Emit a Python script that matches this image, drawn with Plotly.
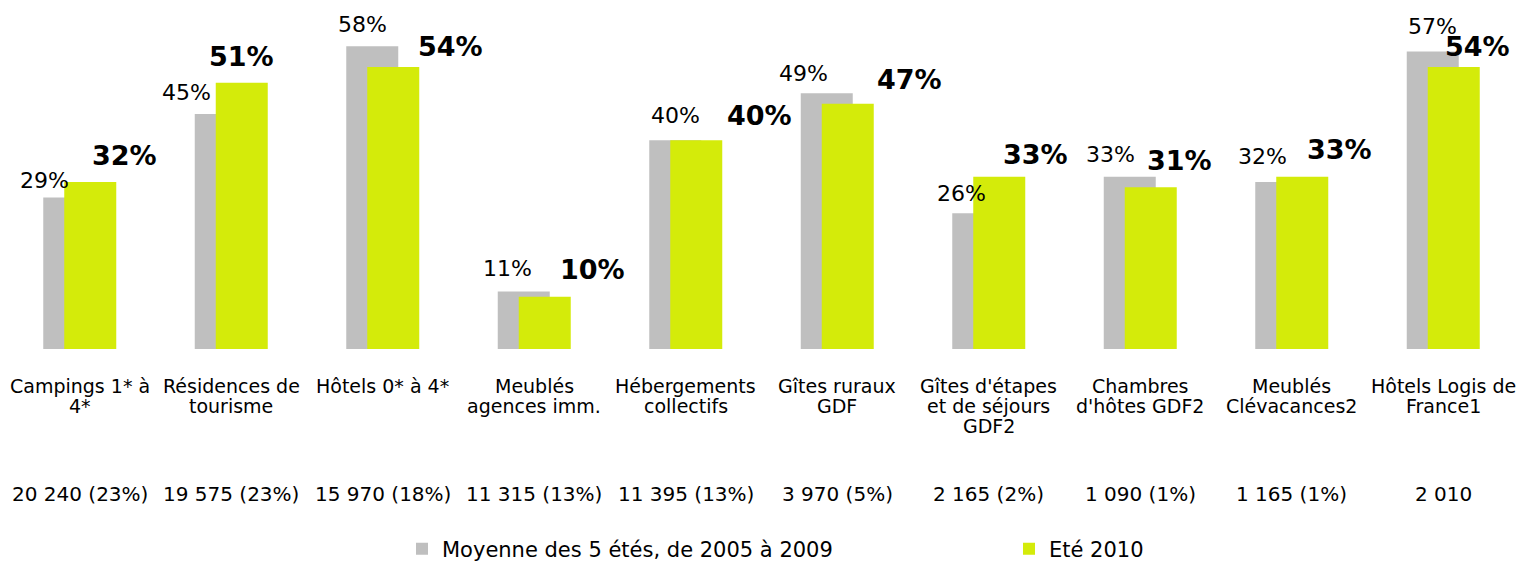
import plotly.graph_objects as go

categories = [
    "Campings 1* à\n4*",
    "Résidences de\ntourisme",
    "Hôtels 0* à 4*",
    "Meublés\nagences imm.",
    "Hébergements\ncollectifs",
    "Gîtes ruraux\nGDF",
    "Gîtes d'étapes\net de séjours\nGDF2",
    "Chambres\nd'hôtes GDF2",
    "Meublés\nClévacances2",
    "Hôtels Logis de\nFrance1",
]
counts = [
    "20 240 (23%)", "19 575 (23%)", "15 970 (18%)", "11 315 (13%)", "11 395 (13%)",
    "3 970 (5%)", "2 165 (2%)", "1 090 (1%)", "1 165 (1%)", "2 010",
]
avg_2005_2009 = [29, 45, 58, 11, 40, 49, 26, 33, 32, 57]
ete_2010 = [32, 51, 54, 10, 40, 47, 33, 31, 33, 54]

name_avg = "Moyenne des 5 étés, de 2005 à 2009"
name_2010 = "Eté 2010"

# Styling: pixel nudges of the value labels relative to the top-centre of their bar
grey_label_nudge_x = [-25, -34, -10, -16, 0, -23, -17, -19, -19, 0]
grey_label_nudge_y = [17, 22, 22, 23, 25, 20, 20, 22, 25, 25]
green_label_nudge_x = [34, 0, 57, 48, 63, 62, 36, 29, 37, 24]
green_label_nudge_y = [26, 26, 21, 27, 25, 24, 22, 27, 27, 21]

GREY = "#BFBFBF"
GREEN = "#D4EB0A"
FONT = "DejaVu Sans"

W, H = 1519, 562
ML, MR, MT, MB = 4, 0, 0, 213
plot_w = W - ML - MR
unit = plot_w / len(categories)  # pixels per category

bar_w = 52 / unit
grey_off = -36.5 / unit
green_off = (-36.5 + 21) / unit

x = list(range(len(categories)))

fig = go.Figure()
fig.add_trace(go.Bar(
    x=x, y=avg_2005_2009, name=name_avg, marker=dict(color=GREY, line=dict(width=0)),
    width=bar_w, offset=grey_off, hoverinfo="skip", legend="legend",
))
fig.add_trace(go.Bar(
    x=x, y=ete_2010, name=name_2010, marker=dict(color=GREEN, line=dict(width=0)),
    width=bar_w, offset=green_off, hoverinfo="skip", legend="legend2",
))

annotations = []
for i, (g, v) in enumerate(zip(avg_2005_2009, ete_2010)):
    annotations.append(dict(
        x=i + grey_off + bar_w / 2, y=g, xref="x", yref="y", text=f"{g}%", showarrow=False,
        xanchor="center", yanchor="middle",
        xshift=grey_label_nudge_x[i], yshift=grey_label_nudge_y[i],
        font=dict(family=FONT, size=22, color="#000000"),
    ))
    annotations.append(dict(
        x=i + green_off + bar_w / 2, y=v, xref="x", yref="y", text=f"<b>{v}%</b>", showarrow=False,
        xanchor="center", yanchor="middle",
        xshift=green_label_nudge_x[i], yshift=green_label_nudge_y[i],
        font=dict(family=FONT, size=27, color="#000000"),
    ))
    for k, line in enumerate(categories[i].split("\n")):
        annotations.append(dict(
            x=i, y=0, xref="x", yref="paper", text=line, showarrow=False,
            xanchor="center", yanchor="middle", yshift=-(37 + 20 * k),
            font=dict(family=FONT, size=19, color="#000000"),
        ))
    annotations.append(dict(
        x=i, y=0, xref="x", yref="paper", text=counts[i], showarrow=False,
        xanchor="center", yanchor="middle", yshift=-145,
        font=dict(family=FONT, size=20, color="#000000"),
    ))

legend_common = dict(
    orientation="h", xref="container", yref="container", xanchor="left",
    y=1 - 549 / H, yanchor="middle", itemwidth=30,
    font=dict(family=FONT, size=21, color="#000000"),
    bgcolor="rgba(0,0,0,0)",
)

fig.update_layout(
    width=W, height=H,
    margin=dict(l=ML, r=MR, t=MT, b=MB, pad=0, autoexpand=False),
    paper_bgcolor="white", plot_bgcolor="white",
    barmode="overlay",
    showlegend=True,
    legend=dict(legend_common, x=402 / W),
    legend2=dict(legend_common, x=1009 / W),
    xaxis=dict(range=[-0.5, len(categories) - 0.5], showticklabels=False, showgrid=False,
               zeroline=False, showline=False, ticks=""),
    yaxis=dict(range=[0, (H - MB - MT) / 5.22], showticklabels=False, showgrid=False,
               zeroline=False, showline=False, ticks=""),
    annotations=annotations,
    font=dict(family=FONT),
)

fig.write_html(
    "out.html",
    config={"displayModeBar": False},
    post_script="document.body.style.margin='0px';",
)
